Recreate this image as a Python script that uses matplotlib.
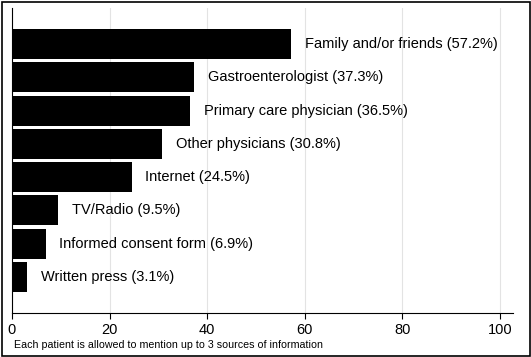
import matplotlib
matplotlib.use("Agg")
import matplotlib.pyplot as plt
from matplotlib.patches import Rectangle

plt.rcParams['font.family'] = ['Liberation Sans', 'DejaVu Sans']

sources = ["Family and/or friends", "Gastroenterologist", "Primary care physician",
           "Other physicians", "Internet", "TV/Radio", "Informed consent form",
           "Written press"]
percent = [57.2, 37.3, 36.5, 30.8, 24.5, 9.5, 6.9, 3.1]
xticks = [0, 20, 40, 60, 80, 100]

W, H = 531, 357
fig = plt.figure(figsize=(W / 100, H / 100), dpi=100)
ax = fig.add_axes([12 / W, 1 - 313 / H, (513 - 12) / W, (313 - 8) / H])

pos = list(range(len(sources)))
ax.barh(pos, percent, height=0.9, color="black", zorder=3)
for p, v, s in zip(pos, percent, sources):
    ax.text(v + 2.8, p, f"{s} ({v}%)", va="center", ha="left", fontsize=10.5, zorder=4)

ax.set_ylim(len(sources) - 1 + 1.08, -1.08)
ax.set_xlim(0, 102.7)
ax.set_xticks(xticks)
ax.set_yticks([])
ax.tick_params(axis="x", length=4, width=0.8, labelsize=10.5, pad=3)
ax.grid(axis="x", color="#e3e3e3", linewidth=0.8, zorder=0)
for side in ["top", "right"]:
    ax.spines[side].set_visible(False)
ax.spines["left"].set_linewidth(0.8)
ax.spines["bottom"].set_linewidth(0.8)

fig.text(14 / W, 1 - 345 / H, "Each patient is allowed to mention up to 3 sources of information",
         fontsize=7.7, va="center", ha="left")
fig.patches.append(Rectangle((1.5 / W, 1.5 / H), (W - 3) / W, (H - 3) / H,
                             transform=fig.transFigure, fill=False,
                             edgecolor="black", linewidth=1.2))

fig.savefig("out.png", dpi=100)
